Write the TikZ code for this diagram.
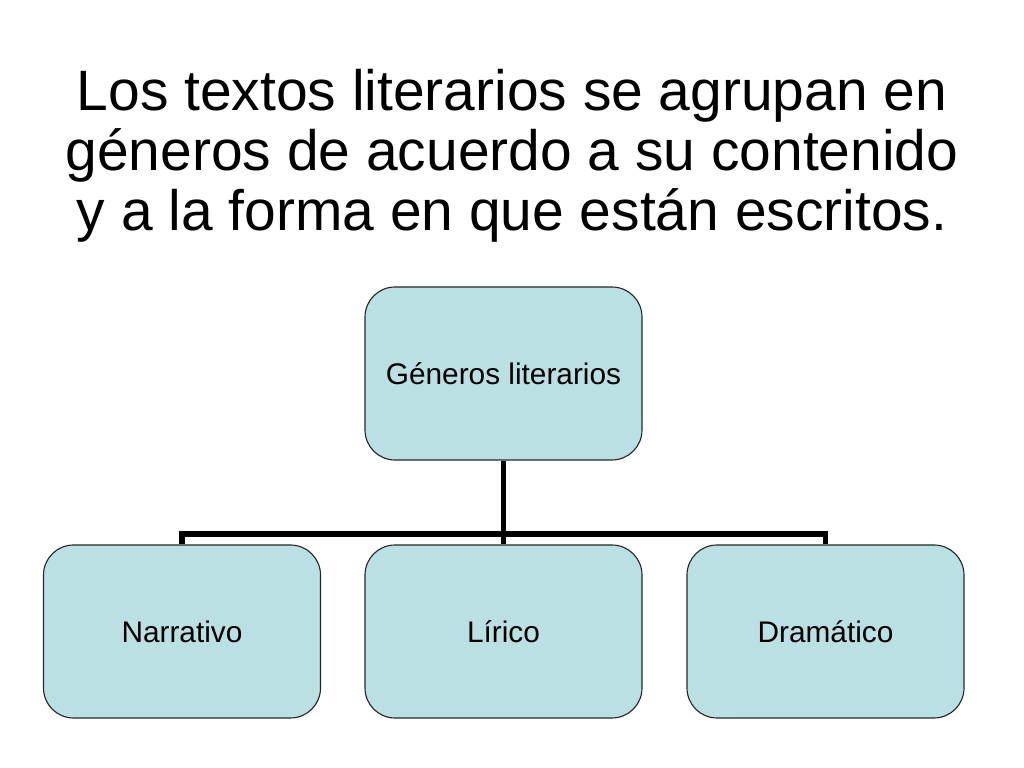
\documentclass[tikz,border=0pt]{standalone}
\usepackage{fontspec}
\setmainfont{Liberation Sans}
\begin{document}
\begin{tikzpicture}[
  genbox/.style={draw=black!85, line width=0.8pt, fill=boxfill, rounded corners=0.75cm,
    minimum width=6.925cm, minimum height=4.325cm, font=\fontsize{21.2}{24}\selectfont},
  conn/.style={line width=4.2pt}]
\definecolor{boxfill}{HTML}{BBE0E3}
\useasboundingbox (0,0) rectangle (25.6,19.2);

\node[align=center, font=\fontsize{40.5}{42.6}\selectfont] (title) at (12.8,15.3)
  {Los textos literarios se agrupan en\\géneros de acuerdo a su contenido\\y a la forma en que están escritos.};

\node[genbox] (gen) at (12.5875,9.8625) {Géneros literarios};
\node[genbox] (nar) at (4.55,3.4125) {Narrativo};
\node[genbox] (lir) at (12.5875,3.4125) {Lírico};
\node[genbox] (dra) at (20.6375,3.4125) {Dramático};

\draw[conn] (nar.north) -- ++(0,0.25) -| (dra.north);
\draw[conn] (gen.south) -- (lir.north);
\end{tikzpicture}
\end{document}
